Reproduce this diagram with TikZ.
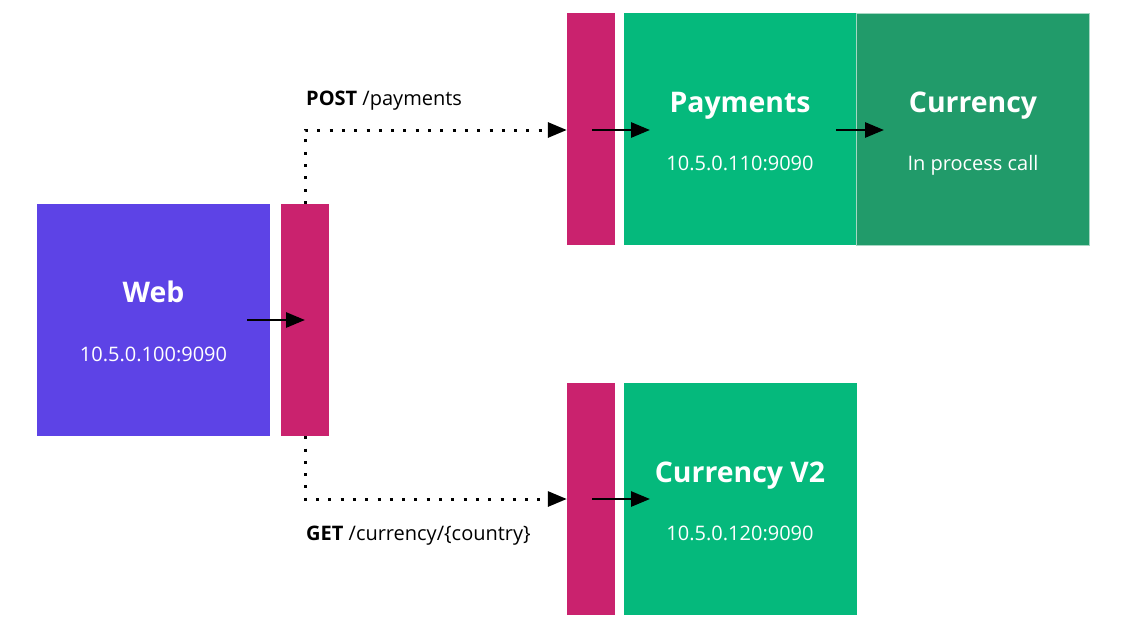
\documentclass[tikz,border=0pt]{standalone}
\usepackage{fontspec}
\setmainfont{Open Sans}
\usetikzlibrary{arrows.meta}
\definecolor{webblue}{RGB}{93,67,230}
\definecolor{sidecar}{RGB}{202,34,110}
\definecolor{svcgreen}{RGB}{5,185,124}
\definecolor{libgreen}{RGB}{33,155,106}
\tikzset{
  box/.style={rectangle,inner sep=0pt,draw=none,minimum width=233pt,minimum height=232pt},
  proxy/.style={rectangle,inner sep=0pt,draw=none,fill=sidecar,minimum width=48pt,minimum height=232pt},
  title/.style={text=white,anchor=base,font=\fontsize{28.4}{33}\selectfont\bfseries},
  addr/.style={text=white,anchor=base,font=\fontsize{20}{24}\selectfont},
  route/.style={anchor=base west,inner sep=0pt,font=\fontsize{20}{24}\selectfont},
  call/.style={-{Triangle[length=19pt,width=15pt]},line width=2.8pt},
  hop/.style={-{Triangle[length=19pt,width=15pt]},line width=3pt,dash pattern=on 3pt off 9.3pt}
}
\begin{document}
\begin{tikzpicture}[x=1pt,y=-1pt]
\useasboundingbox (0,0) rectangle (1123,637);
% web service and its sidecar
\node[box,fill=webblue] (web) at (153.5,320) {};
\node[proxy] (webproxy) at (305,320) {};
\node[title] (webname) at (153.5,302) {Web};
\node[addr] (webaddr) at (153.5,361) {10.5.0.100:9090};
% payments with in process currency
\node[proxy] (payproxy) at (591,129) {};
\node[box,fill=svcgreen] (pay) at (740,129) {};
\node[box,fill=libgreen,draw=white!60!libgreen,line width=0.6pt] (cur) at (973,129) {};
\node[title] (payname) at (740,112) {Payments};
\node[addr] (payaddr) at (740,170) {10.5.0.110:9090};
\node[title] (curname) at (973,112) {Currency};
\node[addr] (curaddr) at (973,170) {In process call};
% currency v2
\node[proxy] (v2proxy) at (591,499) {};
\node[box,fill=svcgreen] (v2) at (740,499) {};
\node[title] (v2name) at (740,482) {Currency V2};
\node[addr] (v2addr) at (740,540) {10.5.0.120:9090};
% routes
\node[route] (postlbl) at (306,105) {\textbf{POST} /payments};
\node[route] (getlbl) at (306,540) {\textbf{GET} /currency/\{country\}};
\coordinate (websrc) at (247,320);
\coordinate (paysrc) at (592,130);
\coordinate (cursrc) at (836,130);
\coordinate (v2src) at (592,499);
\draw[call] (websrc) -- (webproxy.center);
\draw[call] (paysrc) -- ++(58,0);
\draw[call] (cursrc) -- ++(48,0);
\draw[call] (v2src) -- ++(58,0);
\draw[hop] (webproxy.north) |- (payproxy.west |- paysrc);
\draw[hop] (webproxy.south) |- (v2proxy.west |- v2src);
\end{tikzpicture}
\end{document}
